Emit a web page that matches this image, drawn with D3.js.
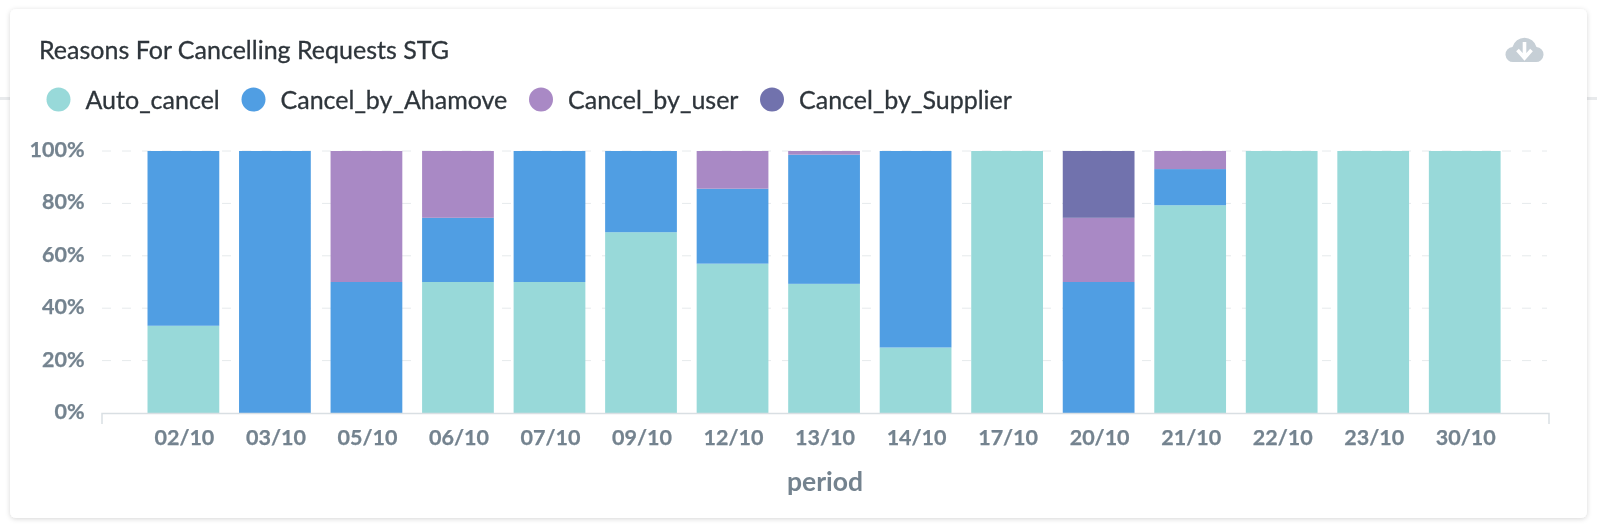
<!DOCTYPE html>
<html>
<head>
<meta charset="utf-8">
<script src="https://cdn.jsdelivr.net/npm/d3@7"></script>
<style>
  html, body { margin: 0; padding: 0; background: #fff; }
  svg { display: block; font-family: Lato, sans-serif; filter: blur(0.45px); }
  .axis text { font-family: Lato, sans-serif; font-weight: 700; fill: #74838f; stroke: #74838f; stroke-width: 0.25; }
</style>
</head>
<body>
<div id="chart"></div>
<script>
const title = 'Reasons For Cancelling Requests STG';
const xLabel = 'period';
const periods = ['02/10', '03/10', '05/10', '06/10', '07/10', '09/10', '12/10', '13/10', '14/10', '17/10', '20/10', '21/10', '22/10', '23/10', '30/10'];
const seriesNames = ['Auto_cancel', 'Cancel_by_Ahamove', 'Cancel_by_user', 'Cancel_by_Supplier'];
const seriesColors = ['#98d9d9', '#509ee3', '#a989c5', '#7172ad'];
const yTicks = [0, 0.2, 0.4, 0.6, 0.8, 1];

const autoCancel = [0.333, 0, 0, 0.5, 0.5, 0.69, 0.57, 0.493, 0.25, 1, 0, 0.793, 1, 1, 1];
const byAhamove = [0.667, 1, 0.5, 0.245, 0.5, 0.31, 0.286, 0.493, 0.75, 0, 0.5, 0.138, 0, 0, 0];
const byUser = [0, 0, 0.5, 0.255, 0, 0, 0.144, 0.014, 0, 0, 0.245, 0.069, 0, 0, 0];
const bySupplier = [0, 0, 0, 0, 0, 0, 0, 0, 0, 0, 0.255, 0, 0, 0, 0];

const width = 1597, height = 529;
const margin = {top: 151, right: 48.5, bottom: 116, left: 101.5};

const svg = d3.select('#chart').append('svg')
  .attr('width', width)
  .attr('height', height);

// page behind the card
svg.append('rect').attr('x', 0).attr('y', 97).attr('width', width).attr('height', 3).attr('fill', '#e8eaec');

const defs = svg.append('defs');
const shadow = defs.append('filter').attr('id', 'card-shadow')
  .attr('x', '-2%').attr('y', '-5%').attr('width', '104%').attr('height', '110%');
shadow.append('feDropShadow')
  .attr('dx', 0).attr('dy', 1).attr('stdDeviation', 2.5)
  .attr('flood-color', '#000').attr('flood-opacity', 0.16);

svg.append('rect')
  .attr('x', 10).attr('y', 9)
  .attr('width', 1577).attr('height', 509)
  .attr('rx', 6)
  .attr('fill', '#fff')
  .style('filter', 'url(#card-shadow)');

svg.append('text')
  .attr('x', 39).attr('y', 59)
  .attr('font-size', 25)
  .attr('fill', '#2e353b')
  .attr('stroke', '#2e353b')
  .attr('stroke-width', 0.3)
  .text(title);

// legend
const legendCircleX = [58.5, 253.5, 541, 772];
const legend = svg.append('g').selectAll('g')
  .data(seriesNames)
  .join('g')
  .attr('transform', (d, i) => 'translate(' + legendCircleX[i] + ',99.5)');
legend.append('circle').attr('r', 12).attr('fill', (d, i) => seriesColors[i]);
legend.append('text')
  .attr('x', 27).attr('y', 9)
  .attr('font-size', 25)
  .attr('fill', '#2e353b')
  .attr('stroke', '#2e353b')
  .attr('stroke-width', 0.3)
  .text((d) => d);

const plotRight = width - margin.right;
const plotBottom = height - margin.bottom;

const x = d3.scaleBand()
  .domain(periods)
  .range([margin.left, plotRight])
  .paddingInner(0.216)
  .paddingOuter(0.513)
  .align(0.49);

const y = d3.scaleLinear()
  .domain([0, 1])
  .range([plotBottom, margin.top]);

// dashed grid
svg.append('g').selectAll('line')
  .data(yTicks.slice(1))
  .join('line')
  .attr('x1', 102)
  .attr('x2', 1547)
  .attr('y1', (d) => y(d))
  .attr('y2', (d) => y(d))
  .attr('stroke', '#e6eaec')
  .attr('stroke-dasharray', '9 11');

// stacked bars
const rows = periods.map((p, i) => ({
  period: p,
  Auto_cancel: autoCancel[i],
  Cancel_by_Ahamove: byAhamove[i],
  Cancel_by_user: byUser[i],
  Cancel_by_Supplier: bySupplier[i]
}));
const stacked = d3.stack().keys(seriesNames)(rows);

svg.append('g').selectAll('g')
  .data(stacked)
  .join('g')
  .attr('fill', (d, i) => seriesColors[i])
  .selectAll('rect')
  .data((d) => d)
  .join('rect')
  .attr('x', (d) => x(d.data.period))
  .attr('width', x.bandwidth())
  .attr('y', (d) => y(d[1]))
  .attr('height', (d) => y(d[0]) - y(d[1]));

// axes
const xAxis = svg.append('g')
  .attr('class', 'axis')
  .attr('transform', 'translate(0,' + plotBottom + ')')
  .call(d3.axisBottom(x).tickSizeInner(0).tickSizeOuter(11).tickPadding(17));
xAxis.select('.domain').attr('stroke', '#d9dfe3').attr('stroke-width', 1.5);
xAxis.selectAll('.tick line').remove();
xAxis.selectAll('text').attr('font-size', 21.5).attr('dx', 1);

const yAxis = svg.append('g')
  .attr('class', 'axis')
  .attr('transform', 'translate(' + margin.left + ',0)')
  .call(d3.axisLeft(y).tickValues(yTicks).tickFormat(d3.format('.0%')).tickSize(0).tickPadding(17));
yAxis.select('.domain').remove();
yAxis.selectAll('text').attr('font-size', 21.5).attr('dy', '0.26em');

svg.append('text')
  .attr('x', 825).attr('y', 491)
  .attr('text-anchor', 'middle')
  .attr('font-size', 26.5)
  .attr('font-weight', 700)
  .attr('fill', '#74838f')
  .text(xLabel);

// download icon
const icon = svg.append('g').attr('transform', 'translate(1524.5,50)');
icon.append('path')
  .attr('d', 'M-11,12 A7.5,7.5 0 0 1 -12,-3 A12.5,13 0 0 1 12,-3 A7.5,7.5 0 0 1 11,12 Z')
  .attr('fill', '#c6cfd6');
icon.append('path')
  .attr('d', 'M0,-8 V7 M-7,0 L0,8 L7,0')
  .attr('fill', 'none')
  .attr('stroke', '#fff')
  .attr('stroke-width', 3.6);
</script>
</body>
</html>
